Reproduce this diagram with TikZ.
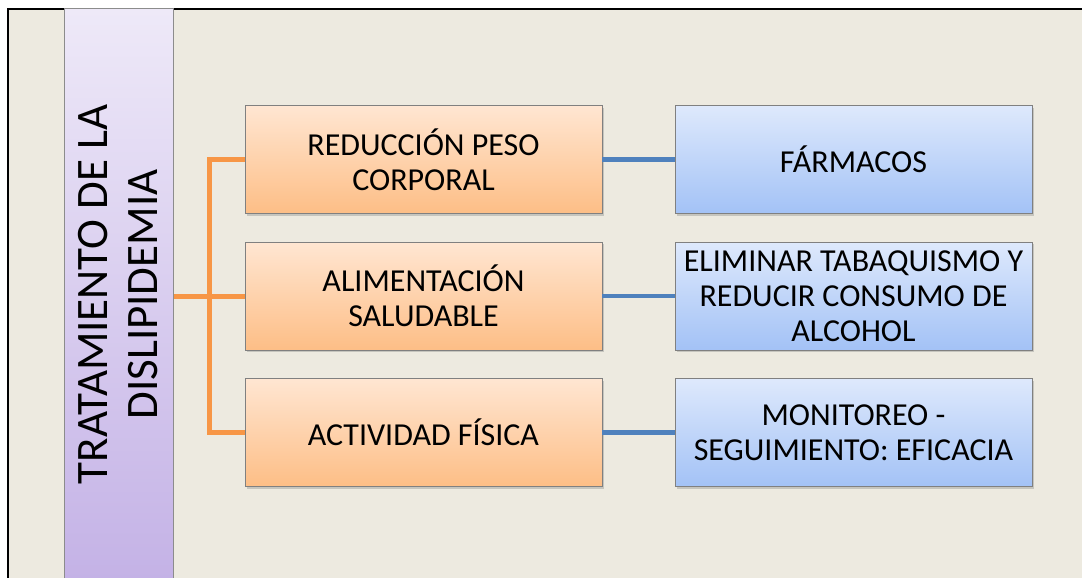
\documentclass[tikz,border=0pt]{standalone}
\usepackage{fontspec}
\setmainfont{Carlito}
\usetikzlibrary{shadows}
\definecolor{fondo}{HTML}{EDEAE0}
\definecolor{lineao}{HTML}{F79646}
\definecolor{lineaa}{HTML}{4F81BD}
\tikzstyle{tema}=[draw=black!45, line width=1pt, rotate=90, minimum width=571pt, minimum height=109pt, inner sep=0pt, top color={rgb,255:red,238;green,233;blue,248}, bottom color={rgb,255:red,196;green,178;blue,230}, align=center, font=\fontsize{45}{50}\selectfont]
\tikzstyle{o}=[draw=black!50, line width=0.8pt, minimum width=357pt, minimum height=108pt, inner sep=2pt, top color={rgb,255:red,255;green,230;blue,210}, bottom color={rgb,255:red,253;green,190;blue,134}, align=center, font=\fontsize{32}{35}\selectfont, drop shadow={shadow xshift=2pt, shadow yshift=-2pt, opacity=0.35}]
\tikzstyle{a}=[o, top color={rgb,255:red,222;green,233;blue,252}, bottom color={rgb,255:red,163;green,194;blue,246}]
\tikzstyle{ramao}=[draw=lineao, line width=5pt]
\tikzstyle{ramaa}=[draw=lineaa, line width=4.5pt]

\begin{document}
\begin{tikzpicture}[x=1pt,y=-1pt]
				\useasboundingbox (0,0) rectangle (1082,578);
				\clip (0,0) rectangle (1082,578);
				%The frame
				\fill[white] (0,0) rectangle (1082,578);
				\fill[fondo] (8,9) rectangle (1090,590);
				\draw[black, line width=2pt] (8,590) -- (8,9) -- (1090,9);
				
				%The title column
				\draw (118.5,294.5) node[tema] (tema) {TRATAMIENTO DE LA\\DISLIPIDEMIA};
				
				%The measures
				\draw (423.5,159.5) node[o] (r1) {REDUCCIÓN PESO\\CORPORAL};
				\draw (423.5,296) node[o] (r2) {ALIMENTACIÓN\\SALUDABLE};
				\draw (423.5,432.5) node[o] (r3) {ACTIVIDAD FÍSICA};
				
				\draw (853.5,159.5) node[a] (f1) {FÁRMACOS};
				\draw (853.5,296) node[a] (f2) {ELIMINAR TABAQUISMO Y\\REDUCIR CONSUMO DE\\ALCOHOL};
				\draw (853.5,432.5) node[a] (f3) {MONITOREO -\\SEGUIMIENTO: EFICACIA};
				
				%The links
				\coordinate (bus) at (209,296);
				\draw[ramao] (tema.south |- r2.west) -- (r2.west);
				\draw[ramao] (r1.west) -- (r1.west -| bus) -- (r3.west -| bus) -- (r3.west);
				\draw[ramaa] (r1) -- (f1);
				\draw[ramaa] (r2) -- (f2);
				\draw[ramaa] (r3) -- (f3);
			\end{tikzpicture}
\end{document}
